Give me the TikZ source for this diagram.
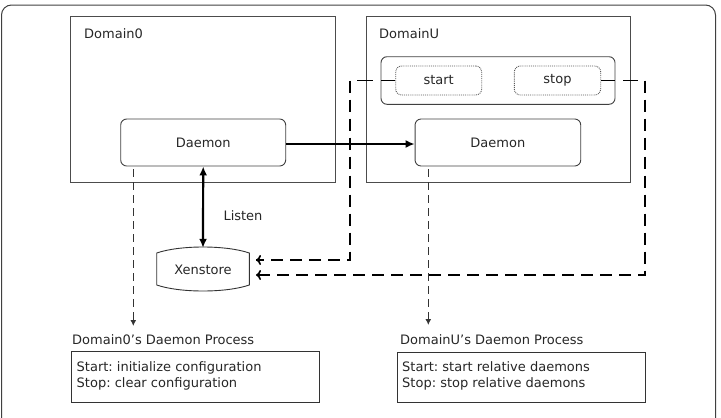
\documentclass[tikz,border=0pt]{standalone}
\usepackage{fontspec}
\setmainfont{DejaVu Sans}
\usetikzlibrary{arrows.meta}
\begin{document}
\begin{tikzpicture}[x=1pt,y=-1pt,
  font=\fontsize{13}{15}\selectfont, text=black!85,
  domainbox/.style={draw=black!70, line width=0.9pt, inner sep=0pt},
  rbox/.style={draw=black!75, line width=0.9pt, rounded corners=6pt, inner sep=0pt},
  dotbox/.style={draw=black!65, line width=0.9pt, densely dotted, rounded corners=6pt, inner sep=0pt},
  lbl/.style={anchor=west, inner sep=0pt},
  solidarrow/.style={draw=black, line width=2.2pt, -{Latex[length=9pt,width=8pt]}},
  bidarrow/.style={draw=black, line width=2.2pt, {Latex[length=9pt,width=8pt]}-{Latex[length=9pt,width=8pt]}},
  thickdash/.style={draw=black, line width=2.2pt, dash pattern=on 12pt off 7pt},
  opentip/.style={-{To[length=5pt,width=10pt,line width=1.6pt]}},
  thindash/.style={draw=black!80, line width=1.2pt, dash pattern=on 8pt off 5pt, dash phase=-3pt, -{Latex[length=6pt,width=6pt]}},
  stub/.style={draw=black, line width=1.8pt}
]
\useasboundingbox (0,0) rectangle (721,418);
\begin{scope}
  \clip (0,0) rectangle (721,418);
  \draw[draw=black!75, line width=1pt, rounded corners=10pt] (1.5,5) rectangle (715.5,440);
\end{scope}

% domain boxes
\node[domainbox, minimum width=264.3pt, minimum height=165.3pt] (dom0) at (202.9,99.3) {};
\node[domainbox, minimum width=264pt, minimum height=165.3pt] (domu) at (498,99.3) {};
\node[lbl] (dom0lbl) at (84,34) {Domain0};
\node[lbl] (domulbl) at (379,34) {DomainU};

% daemons
\node[rbox, minimum width=165pt, minimum height=47pt] (d0) at (203.2,142.5) {Daemon};
\node[rbox, minimum width=165.7pt, minimum height=47pt] (du) at (497.9,142.5) {Daemon};

% start/stop container
\node[rbox, minimum width=234pt, minimum height=47.6pt] (ctrl) at (498,80.5) {};
\node[dotbox, minimum width=86pt, minimum height=29pt] (start) at (438.7,80.5) {start};
\node[dotbox, minimum width=86.4pt, minimum height=29pt] (stop) at (557.5,80.5) {stop};

% Xenstore
\node[minimum width=92.6pt, minimum height=44pt, inner sep=0pt] (xs) at (203,270) {Xenstore};
\draw[draw=black!80, line width=0.9pt]
  (156.7,253) .. controls (180,245) and (226,245) .. (249.3,253)
  -- (249.3,285) .. controls (226,293) and (180,293) .. (156.7,285) -- cycle;

% arrows
\draw[solidarrow] ([yshift=-1.5pt]d0.east) -- ([yshift=-1.5pt]du.west);
\draw[bidarrow] (d0.south) -- (xs.north);
\node[inner sep=0pt] (listen) at (243,216) {Listen};

% start -> xenstore
\coordinate (sbend) at (350,80.5);
\coordinate (sin) at (256,260);
\draw[stub] (start.west) -- (ctrl.west |- start.west);
\draw[stub] (357,80.5) -- (373,80.5);
\draw[thickdash] (350,80.5) -- (sbend) |- (sin);
\draw[thickdash] (sbend) -- ++(0,0);
\draw[line width=2.2pt, opentip, draw=black] ([xshift=6pt]sin) -- (sin);

% stop -> xenstore
\coordinate (pbend) at (645,80.5);
\coordinate (pin) at (256,275);
\draw[stub] (stop.east) -- (ctrl.east |- stop.east);
\draw[stub] (623,80.5) -- (638,80.5);
\draw[thickdash] (pbend) |- (pin);
\draw[line width=2.2pt, opentip, draw=black] ([xshift=6pt]pin) -- (pin);

% daemon process arrows
\coordinate (d0p) at (133.3,326);
\coordinate (dup) at (428.3,325);
\draw[thindash] (d0.south -| d0p) -- (d0p);
\draw[thindash] (du.south -| dup) -- (dup);

% process boxes
\node[lbl] (p0lbl) at (72,339.5) {Domain0's Daemon Process};
\node[lbl] (pulbl) at (400,339.5) {DomainU's Daemon Process};
\node[draw=black!80, line width=0.9pt, minimum width=247.6pt, minimum height=50.3pt] (p0) at (195.5,376.9) {};
\node[draw=black!80, line width=0.9pt, minimum width=248pt, minimum height=49.3pt] (pu) at (521.7,377.3) {};
\node[lbl, align=left, font=\fontsize{13}{16}\selectfont] (p0txt) at (76.5,376) {Start:\ initialize configuration\\Stop:\ clear configuration};
\node[lbl, align=left, font=\fontsize{13}{16}\selectfont] (putxt) at (402,376) {Start:\ start relative daemons\\Stop:\ stop relative daemons};
\end{tikzpicture}
\end{document}
